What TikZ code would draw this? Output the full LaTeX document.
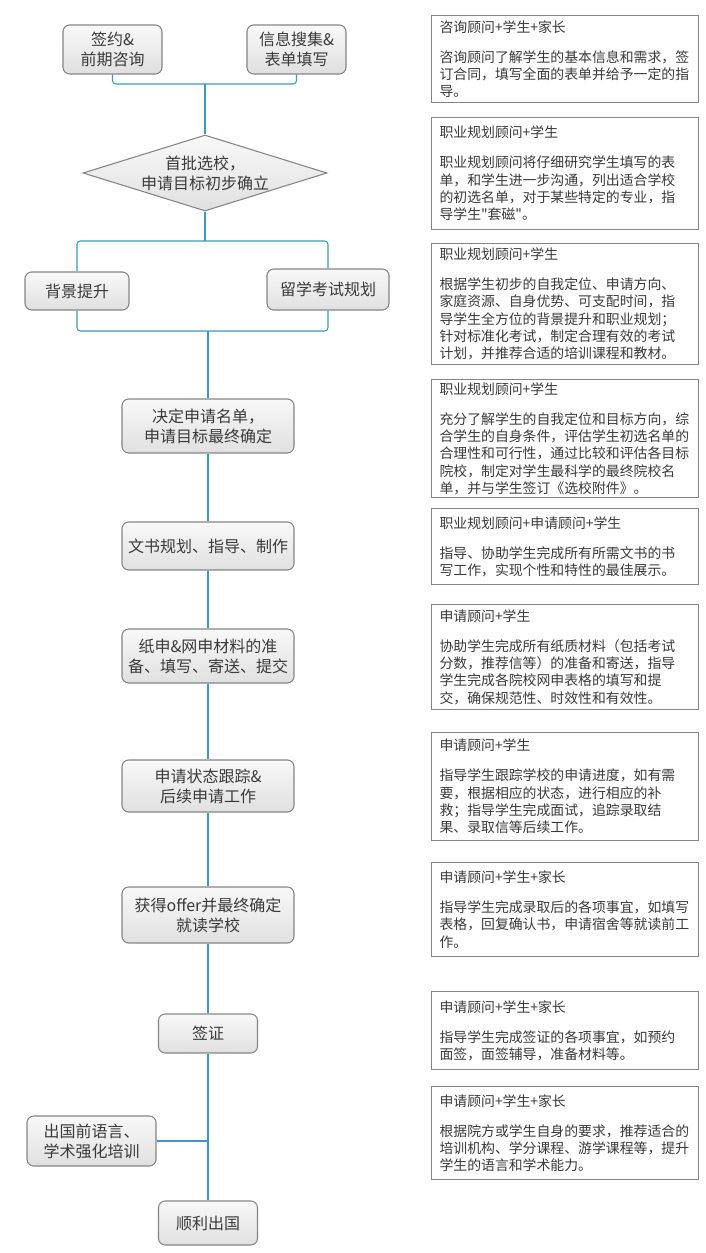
\documentclass[tikz,border=0pt]{standalone}
\usepackage{fontspec}
\setmainfont{Noto Sans CJK SC}
\newfontfamily\plainfont{Noto Sans CJK SC}
\usetikzlibrary{shapes.geometric}
\definecolor{linkblue}{HTML}{3A9AC0}
\definecolor{boxline}{HTML}{858585}
\definecolor{boxtop}{HTML}{F8F8F8}
\definecolor{boxbottom}{HTML}{E0E0E0}
\definecolor{txtdark}{HTML}{3A3A3A}

\begin{document}
\begin{tikzpicture}[
    x=0.75pt, y=-0.75pt,
    boxsize/.style 2 args={minimum width=#1*0.75pt, minimum height=#2*0.75pt},
    stage/.style={draw=boxline, line width=0.8pt, rounded corners=5pt,
        top color=boxtop, bottom color=boxbottom, text=txtdark,
        align=center, inner sep=0pt, font=\fontsize{12}{15}\selectfont},
    choice/.style={diamond, aspect=3.3, draw=boxline, line width=0.8pt,
        top color=boxtop, bottom color=boxbottom, text=txtdark,
        align=center, inner sep=0pt, font=\fontsize{12}{15}\selectfont},
    note/.style={draw=boxline, line width=0.8pt, anchor=north west,
        text width=188pt, inner xsep=6pt, inner ysep=0pt, align=left,
        text=txtdark, font=\fontsize{10.4}{13}\selectfont},
    link/.style={draw=linkblue, line width=0.8pt, rounded corners=2.5pt}
]

% 0. Canvas (pixel grid of the page)
\fill[white] (0,0) rectangle (706,1253);
\useasboundingbox (0,0) rectangle (706,1253);

% 1. Steps of the flow
\node[stage, boxsize={99}{49}] (sign) at (112.5,49.5) {签约\&\\前期咨询};
\node[stage, boxsize={99}{49}] (info) at (296.5,49.5) {信息搜集\&\\表单填写};
\node[choice, boxsize={244}{76}] (pick) at (205,173) {首批选校，\\申请目标初步确立};
\node[stage, boxsize={104}{38}] (bg) at (77,291) {背景提升};
\node[stage, boxsize={122}{41}] (exam) at (328,289.5) {留学考试规划};
\node[stage, boxsize={172}{54}] (decide) at (208,426) {决定申请名单，\\申请目标最终确定};
\node[stage, boxsize={172}{48}] (essay) at (208,546) {文书规划、指导、制作};
\node[stage, boxsize={172}{54}] (submit) at (208,656) {纸申\&网申材料的准\\备、填写、寄送、提交};
\node[stage, boxsize={172}{52}] (track) at (208,786) {申请状态跟踪\&\\后续申请工作};
\node[stage, boxsize={172}{56}] (offer) at (208,915) {获得offer并最终确定\\就读学校};
\node[stage, boxsize={99}{39}] (visa) at (208,1033.5) {签证};
\node[stage, boxsize={129}{50}] (train) at (91.5,1141) {出国前语言、\\学术强化培训};
\node[stage, boxsize={99}{44}] (leave) at (208,1223) {顺利出国};

% 2. Links between the steps
\coordinate (join) at (205,84);
\draw[link] (sign.south) |- (join) -| (info.south);
\draw[link] (join) -- (pick.north);

\coordinate (split) at (205,241);
\coordinate (merge) at (208,331);
\draw[link] (pick.south) -- (split);
\draw[link] (bg.north) |- (split) -| (exam.north);
\draw[link] (bg.south) |- (merge) -| (exam.south);
\draw[link] (merge) -- (decide.north);

\foreach \a/\b in {decide/essay, essay/submit, submit/track, track/offer, offer/visa, visa/leave}
    \draw[link] (\a.south) -- (\b.north);
\draw[link] (train.east) -- (train.east -| visa.south);

% 3. Notes on the right
\node[note, minimum height=87*0.75pt] (note1) at (431,15) {咨询顾问+学生+家长\\[9.5pt]
    咨询顾问了解学生的基本信息和需求，签\\订合同，填写全面的表单并给予一定的指\\导。};
\node[note, minimum height=112*0.75pt] (note2) at (431,117) {职业规划顾问+学生\\[9.5pt]
    职业规划顾问将仔细研究学生填写的表\\单，和学生进一步沟通，列出适合学校\\的初选名单，对于某些特定的专业，指\\导学生{\plainfont"}套磁{\plainfont"}。};
\node[note, minimum height=121*0.75pt] (note3) at (431,243) {职业规划顾问+学生\\[9.5pt]
    根据学生初步的自我定位、申请方向、\\家庭资源、自身优势、可支配时间，指\\导学生全方位的背景提升和职业规划；\\针对标准化考试，制定合理有效的考试\\计划，并推荐合适的培训课程和教材。};
\node[note, minimum height=118*0.75pt] (note4) at (431,379) {职业规划顾问+学生\\[9.5pt]
    充分了解学生的自我定位和目标方向，综\\合学生的自身条件，评估学生初选名单的\\合理性和可行性，通过比较和评估各目标\\院校，制定对学生最科学的最终院校名\\单，并与学生签订《选校附件》。};
\node[note, minimum height=76*0.75pt] (note5) at (431,508) {职业规划顾问+申请顾问+学生\\[9.5pt]
    指导、协助学生完成所有所需文书的书\\写工作，实现个性和特性的最佳展示。};
\node[note, minimum height=105*0.75pt] (note6) at (431,604) {申请顾问+学生\\[9.5pt]
    协助学生完成所有纸质材料（包括考试\\分数，推荐信等）的准备和寄送，指导\\学生完成各院校网申表格的填写和提\\交，确保规范性、时效性和有效性。};
\node[note, minimum height=108*0.75pt] (note7) at (431,732) {申请顾问+学生\\[9.5pt]
    指导学生跟踪学校的申请进度，如有需\\要，根据相应的状态，进行相应的补\\救；指导学生完成面试，追踪录取结\\果、录取信等后续工作。};
\node[note, minimum height=94*0.75pt] (note8) at (431,862) {申请顾问+学生+家长\\[9.5pt]
    指导学生完成录取后的各项事宜，如填写\\表格，回复确认书，申请宿舍等就读前工\\作。};
\node[note, minimum height=78*0.75pt] (note9) at (431,991) {申请顾问+学生+家长\\[9.5pt]
    指导学生完成签证的各项事宜，如预约\\面签，面签辅导，准备材料等。};
\node[note, minimum height=93*0.75pt] (note10) at (431,1086) {申请顾问+学生+家长\\[9.5pt]
    根据院方或学生自身的要求，推荐适合的\\培训机构、学分课程、游学课程等，提升\\学生的语言和学术能力。};

\end{tikzpicture}
\end{document}
